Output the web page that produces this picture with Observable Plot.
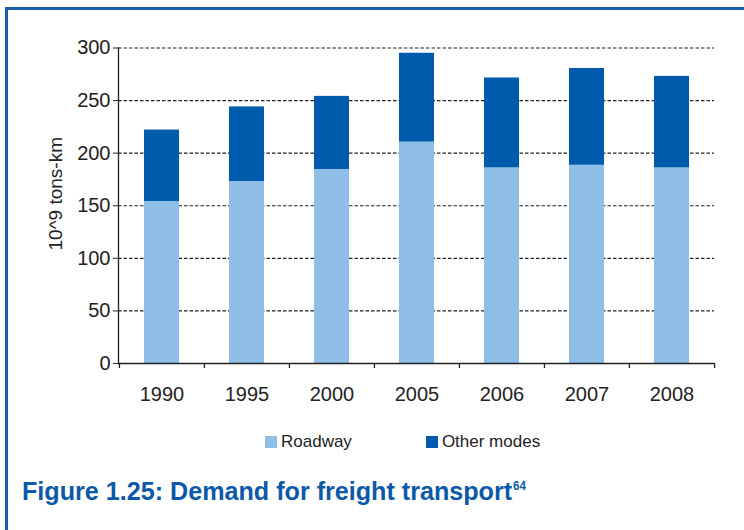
<!DOCTYPE html>
<html>
<head>
<meta charset="utf-8">
<script src="https://cdn.jsdelivr.net/npm/d3@7"></script>
<script src="https://cdn.jsdelivr.net/npm/@observablehq/plot@0.6"></script>
<style>
  html, body { margin: 0; padding: 0; background: #fff; }
  #wrap { position: relative; width: 744px; height: 530px; overflow: hidden; font-family: "Liberation Sans", Arial, sans-serif; }
  .bt { position: absolute; left: 5px; top: 7px; width: 739px; height: 3px; background: #1a5ea9; }
  .bl { position: absolute; left: 5px; top: 7px; width: 2.5px; height: 523px; background: #1a5ea9; }
  #legend { display: flex; align-items: center; height: 20px; margin-top: 12px; padding-left: 265px; font-size: 17px; color: #222; }
  #legend .item { display: flex; align-items: center; }
  #legend .sw { width: 12px; height: 12px; margin-right: 4px; }
  #title { margin-top: 24px; padding-left: 22px; line-height: 30px; font-size: 26px; font-weight: bold; color: #0b59a8; white-space: nowrap;
           font-family: "Liberation Sans", Arial, sans-serif; }
  #title .inner { display: inline-block; transform-origin: 0 50%; }
  #title sup { font-size: 12px; vertical-align: 0; position: relative; top: -10px; margin-left: 1px; }
</style>
</head>
<body>
<div id="wrap">
  <div id="chart"></div>
  <div id="legend"></div>
  <div id="title"><span class="inner"></span></div>
  <div class="bt"></div>
  <div class="bl"></div>
</div>
<script>
const years = ["1990", "1995", "2000", "2005", "2006", "2007", "2008"];
const roadway = [154, 173, 184.5, 210.5, 186, 188.5, 186];
const otherModes = [68, 71, 69.5, 84.5, 85.5, 92, 87];
const seriesNames = ["Roadway", "Other modes"];
const seriesColors = ["#8fbfe7", "#005bac"];
const yTicks = [0, 50, 100, 150, 200, 250, 300];
const yLabel = "10^9 tons-km";
const titleText = "Figure 1.25: Demand for freight transport";
const titleSup = "64";

const rows = [];
years.forEach((y, i) => {
  rows.push({year: y, series: seriesNames[0], value: roadway[i]});
  rows.push({year: y, series: seriesNames[1], value: otherModes[i]});
});

const W = 744, H = 420, ML = 118, MR = 30, MT = 47.5, MB = 57;
const step = (W - ML - MR) / years.length;
const fontStack = '"Liberation Sans", Arial, sans-serif';

const chart = Plot.plot({
  width: W, height: H,
  marginLeft: ML, marginRight: MR, marginTop: MT, marginBottom: MB,
  style: {fontFamily: fontStack, fontSize: "20px", color: "#222", background: "#fff"},
  x: {domain: years, paddingInner: 0.59, paddingOuter: 0.295, label: null},
  y: {domain: [0, 300], label: null},
  color: {domain: seriesNames, range: seriesColors},
  marks: [
    Plot.gridY(yTicks, {stroke: "#222", strokeOpacity: 1, strokeWidth: 1.1, strokeDasharray: "3.5,2"}),
    Plot.barY(rows, Plot.stackY({x: "year", y: "value", fill: "series", order: seriesNames})),
    Plot.axisY({ticks: yTicks, tickSize: 5, tickPadding: 3, fontSize: 20, stroke: "#222", label: null}),
    Plot.axisX({tickSize: 0, tickPadding: 23, fontSize: 20, label: null}),
    Plot.frame({anchor: "left", stroke: "#222", strokeWidth: 1.3}),
    Plot.ruleY([0], {stroke: "#222", strokeWidth: 1.3}),
    Plot.ruleX(years, {x: d => d, y1: 0, y2: 0, dx: -step / 2, insetBottom: -5, stroke: "#222", strokeWidth: 1.3}),
    Plot.ruleX(years.slice(-1), {x: d => d, y1: 0, y2: 0, dx: step / 2, insetBottom: -5, stroke: "#222", strokeWidth: 1.3}),
    Plot.text([yLabel], {text: d => d, frameAnchor: "left", textAnchor: "middle", rotate: -90, dx: -63, dy: -12, fontSize: 19, fill: "#222"})
  ]
});
document.getElementById("chart").appendChild(chart);

const legend = document.getElementById("legend");
seriesNames.forEach((name, i) => {
  const item = document.createElement("div");
  item.className = "item";
  if (i > 0) item.style.marginLeft = "74px";
  const sw = document.createElement("div");
  sw.className = "sw";
  sw.style.background = seriesColors[i];
  const label = document.createElement("span");
  label.textContent = name;
  item.appendChild(sw);
  item.appendChild(label);
  legend.appendChild(item);
});

const inner = document.querySelector("#title .inner");
inner.textContent = titleText;
const sup = document.createElement("sup");
sup.textContent = titleSup;
inner.appendChild(sup);
const targetWidth = 504;
const w = inner.getBoundingClientRect().width;
if (w > 0) inner.style.transform = `scaleX(${targetWidth / w})`;
</script>
</body>
</html>
